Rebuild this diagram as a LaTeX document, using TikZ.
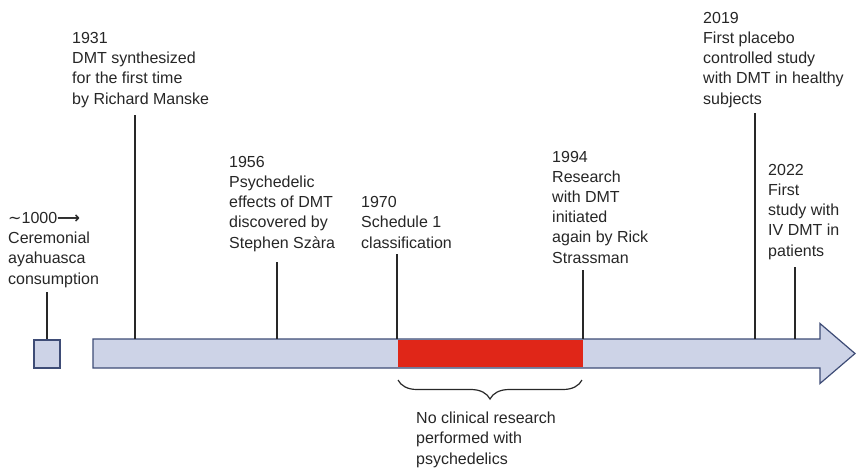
\documentclass[tikz,border=0pt]{standalone}
\usepackage{fontspec}
\setmainfont{Liberation Sans}
\newfontfamily\symfont{DejaVu Sans}
\usetikzlibrary{decorations.pathreplacing}
\definecolor{barfill}{RGB}{205,211,231}
\definecolor{barline}{RGB}{62,76,118}
\definecolor{gapred}{RGB}{224,38,24}
\definecolor{tickgray}{RGB}{40,40,40}
\tikzset{
  event/.style={anchor=base west, align=left, inner sep=0pt,
    font=\fontsize{16pt}{20.2pt}\selectfont, text=black!85},
  tick/.style={draw=tickgray, line width=1.3pt},
}
\begin{document}
\begin{tikzpicture}[x=1pt,y=-1pt]
  \useasboundingbox (0,0) rectangle (861,467);
  % timeline bar
  \draw[barline, fill=barfill, line width=1.4pt]
    (34,340) rectangle (60,368);
  \draw[barline, fill=barfill, line width=1.2pt, line join=miter]
    (93,339) -- (820,339) -- (820,323.5) -- (855,353.5) -- (820,383.5)
    -- (820,368) -- (93,368) -- cycle;
  \fill[gapred] (397.5,339.8) rectangle (583,367.2);
  % labels (placed at the baseline of their last line)
  \draw
    (8,284) node[event] (e1000){{\symfont\char"223C}1000{\symfont\bfseries\char"27F6}\\Ceremonial\\ayahuasca\\consumption}
    (72,104) node[event] (e1931){1931\\DMT synthesized\\for the first time\\by Richard Manske}
    (229,248) node[event] (e1956){1956\\Psychedelic\\effects of DMT\\discovered by\\Stephen Szàra}
    (361,248) node[event] (e1970){1970\\Schedule 1\\classification}
    (552,263) node[event] (e1994){1994\\Research\\with DMT\\initiated\\again by Rick\\Strassman}
    (703,104) node[event] (e2019){2019\\First placebo\\controlled study\\with DMT in healthy\\subjects}
    (768,256) node[event] (e2022){2022\\First\\study with\\IV DMT in\\patients}
    (416,464) node[event] (gap){No clinical research\\performed with\\psychedelics};
  % ticks
  \coordinate (t1000) at (47,292);
  \coordinate (t1931) at (135,115);
  \coordinate (t1956) at (277,262);
  \coordinate (t1970) at (397,254);
  \coordinate (t1994) at (583,270);
  \coordinate (t2019) at (755,113);
  \coordinate (t2022) at (795,267);
  \coordinate (b1000) at (47,339);
  \coordinate (bar) at (0,339);
  \begin{scope}[tick]
    \draw (t1000) to (b1000);
    \draw (t1931) to (t1931 |- bar);
    \draw (t1956) to (t1956 |- bar);
    \draw (t1970) to (t1970 |- bar);
    \draw (t1994) to (t1994 |- bar);
    \draw (t2019) to (t2019 |- bar);
    \draw (t2022) to (t2022 |- bar);
  \end{scope}
  % brace under the gap
  \coordinate (g1) at (398,380);
  \coordinate (g2) at (582,380);
  \draw[tickgray, line width=1.2pt,
    decorate, decoration={brace, amplitude=19pt}] (g2) -- (g1);
\end{tikzpicture}
\end{document}
